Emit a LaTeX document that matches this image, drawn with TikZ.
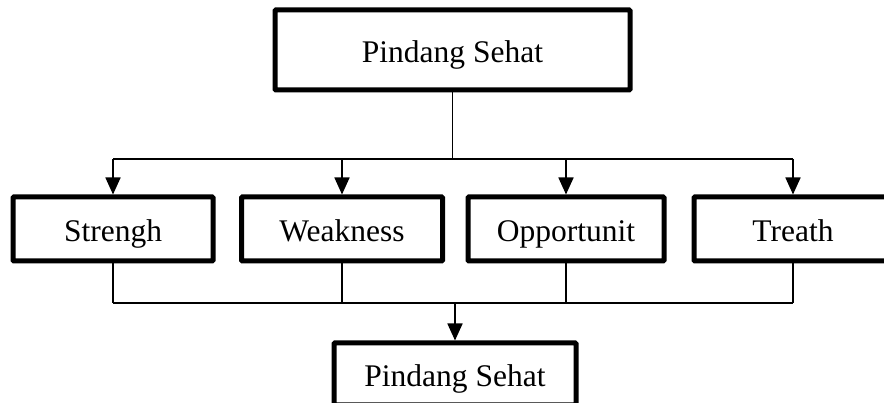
\documentclass[tikz,border=0pt]{standalone}
\usepackage{fontspec}
\setmainfont{Liberation Serif}
\usetikzlibrary{arrows.meta}
\tikzset{
  box/.style={draw=black, line width=5pt, rounded corners=1pt, fill=white,
    font=\fontsize{31.5}{36}\selectfont, text height=26pt, text depth=0pt,
    inner sep=0pt, align=center},
  conn/.style={draw=black, line width=1.7pt},
  arr/.style={-{Triangle[width=15pt,length=17pt]}}
}
\begin{document}
\begin{tikzpicture}[x=1pt,y=-1pt]
\useasboundingbox (0,0) rectangle (884,403);
\clip (0,0) rectangle (884,403);
\node[box, minimum width=355pt, minimum height=80pt] (top) at (452.5,50) {Pindang Sehat};
\node[box, minimum width=200pt, minimum height=64pt] (s) at (113,229) {Strengh};
\node[box, minimum width=201pt, minimum height=64pt] (w) at (342,229) {Weakness};
\node[box, minimum width=196pt, minimum height=64pt] (o) at (566,229) {Opportunit};
\node[box, minimum width=198pt, minimum height=64pt] (t) at (793,229) {Treath};
\node[box, minimum width=242pt, minimum height=62pt] (bot) at (455,374) {Pindang Sehat};
\coordinate (bus1) at (0,159);
\coordinate (bus2) at (0,303);
\draw[conn] (top.south) -- (top.south |- bus1);
\draw[conn] (s.north |- bus1) -- (t.north |- bus1);
\foreach \n in {s,w,o,t}{
  \draw[conn,arr] (\n.north |- bus1) -- (\n.north);
  \draw[conn] (\n.south) -- (\n.south |- bus2);
}
\draw[conn] (s.south |- bus2) -- (t.south |- bus2);
\draw[conn,arr] (bot.north |- bus2) -- (bot.north);
\end{tikzpicture}
\end{document}
